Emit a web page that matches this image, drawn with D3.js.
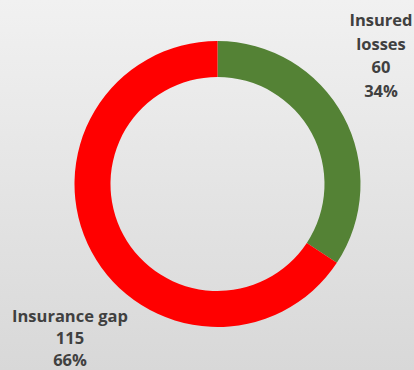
<!DOCTYPE html>
<html>
<head>
<meta charset="utf-8">
<script src="https://cdn.jsdelivr.net/npm/d3@7"></script>
<style>
  html, body { margin: 0; padding: 0; }
  body { width: 414px; height: 370px; overflow: hidden; }
  svg { display: block; }
</style>
</head>
<body>
<svg id="chart" width="414" height="370"></svg>
<script>
// Loss split: insured share vs. uninsured gap
const categories = ["Insured losses", "Insurance gap"];
const values = [60, 115];
const colors = ["#548235", "#ff0000"];
const labelLines = [["Insured", "losses"], ["Insurance gap"]];

const W = 414, H = 370;
const cx = 217.5, cy = 184;
const outerR = 143, innerR = 107;

const svg = d3.select("#chart");

// soft grey backdrop
const defs = svg.append("defs");
const grad = defs.append("linearGradient")
  .attr("id", "bg").attr("x1", 0).attr("y1", 0).attr("x2", 0).attr("y2", 1);
grad.append("stop").attr("offset", "0%").attr("stop-color", "#f1f1f1");
grad.append("stop").attr("offset", "100%").attr("stop-color", "#d8d8d8");
svg.append("rect").attr("width", W).attr("height", H).attr("fill", "url(#bg)");

const total = d3.sum(values);
const pie = d3.pie().sort(null).value(d => d)(values);
const arc = d3.arc().innerRadius(innerR).outerRadius(outerR);

const g = svg.append("g").attr("transform", `translate(${cx},${cy})`);
g.selectAll("path.slice")
  .data(pie)
  .join("path")
  .attr("class", "slice")
  .attr("d", arc)
  .attr("fill", (d, i) => colors[i]);

// data labels: name, value, share
const labelPos = [
  { x: 381, y: 26, dy: 23.5 },
  { x: 70, y: 322, dy: 22 }
];
const fmtPct = d3.format(".0%");

pie.forEach((d, i) => {
  const lines = labelLines[i].concat([String(values[i]), fmtPct(values[i] / total)]);
  const t = svg.append("text")
    .attr("x", labelPos[i].x)
    .attr("y", labelPos[i].y)
    .attr("text-anchor", "middle")
    .attr("font-family", "'Open Sans', 'Noto Sans', sans-serif")
    .attr("font-weight", 700)
    .attr("font-size", 16.5)
    .attr("fill", "#404040");
  lines.forEach((ln, k) => {
    t.append("tspan")
      .attr("x", labelPos[i].x)
      .attr("y", labelPos[i].y + k * labelPos[i].dy)
      .text(ln);
  });
});
</script>
</body>
</html>
